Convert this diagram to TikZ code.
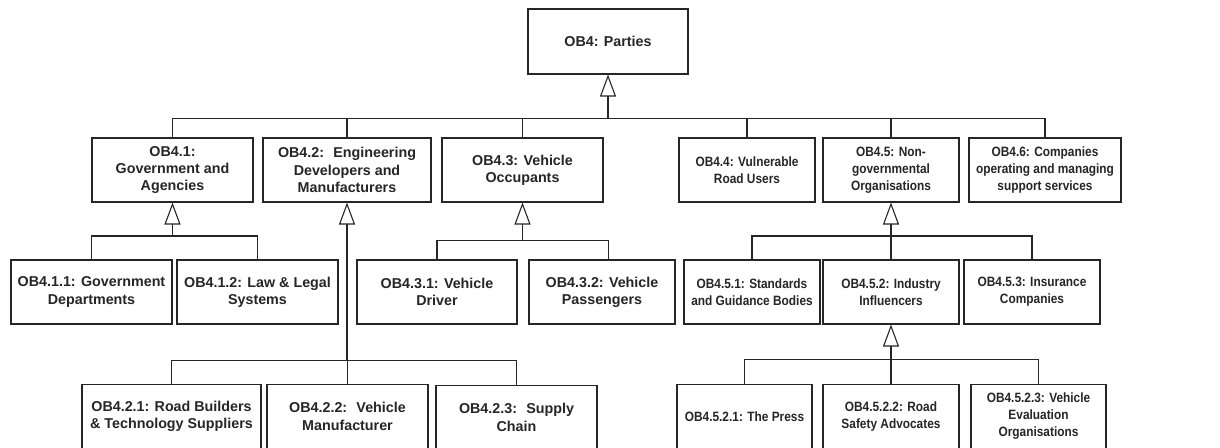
\documentclass[tikz,border=0pt]{standalone}
\usepackage{fontspec}
\setmainfont{Liberation Sans}
\newfontfamily\narrowsans[FakeStretch=0.88]{Liberation Sans}
\usetikzlibrary{arrows.meta}
\begin{document}
\begin{tikzpicture}[x=1pt,y=-1pt,
  box/.style={draw=black!85,line width=1.1pt,fill=white,inner sep=0pt,align=center,
    font=\fontsize{14.3}{17.3}\selectfont\bfseries,text=black!85},
  rbox/.style={box,font=\narrowsans\fontsize{13.5}{17}\selectfont\bfseries},
  conn/.style={draw=black!85,line width=1.1pt},
  gen/.style={conn,-{Triangle[open,length=22pt,width=16pt,line width=1.1pt]}}]
\useasboundingbox (0,0) rectangle (1220,447);
% top
\node[box,minimum width=160pt,minimum height=65pt] (ob4) at (608,41.5) {OB4: Parties};
% row 1
\node[box,minimum width=161pt,minimum height=64pt] (ob41) at (172.5,170) {OB4.1:\\Government and\\Agencies};
\node[box,minimum width=168pt,minimum height=64pt] (ob42) at (347,170) {OB4.2:~ Engineering\\Developers and\\Manufacturers};
\node[box,minimum width=161pt,minimum height=64pt] (ob43) at (522.5,170) {OB4.3: Vehicle\\Occupants};
\node[rbox,minimum width=136pt,minimum height=64pt] (ob44) at (747,170) {OB4.4: Vulnerable\\Road Users};
\node[rbox,minimum width=136pt,minimum height=64pt] (ob45) at (891,170) {OB4.5: Non-\\governmental\\Organisations};
\node[rbox,minimum width=152pt,minimum height=64pt] (ob46) at (1045,170) {OB4.6: Companies\\operating and managing\\support services};
% row 2
\node[box,minimum width=161pt,minimum height=64pt] (ob411) at (91.5,292) {OB4.1.1: Government\\Departments};
\node[box,minimum width=161pt,minimum height=64pt] (ob412) at (257.5,292) {OB4.1.2: Law \& Legal\\Systems};
\node[box,minimum width=160pt,minimum height=64pt] (ob431) at (437,292) {OB4.3.1: Vehicle\\Driver};
\node[box,minimum width=146pt,minimum height=64pt] (ob432) at (602,292) {OB4.3.2: Vehicle\\Passengers};
\node[rbox,minimum width=136pt,minimum height=64pt] (ob451) at (752,292) {OB4.5.1: Standards\\and Guidance Bodies};
\node[rbox,minimum width=136pt,minimum height=64pt] (ob452) at (891,292) {OB4.5.2: Industry\\Influencers};
\node[rbox,minimum width=136pt,minimum height=64pt] (ob453) at (1032,292) {OB4.5.3: Insurance\\Companies};
% row 3
\node[box,minimum width=179pt,minimum height=64pt] (ob421) at (171.5,416.5) {OB4.2.1: Road Builders\\\& Technology Suppliers};
\node[box,minimum width=161pt,minimum height=64pt] (ob422) at (347.5,416.5) {OB4.2.2:~ Vehicle\\Manufacturer};
\node[box,minimum width=161pt,minimum height=64pt] (ob423) at (516.5,417.5) {OB4.2.3:~ Supply\\Chain};
\node[rbox,minimum width=135pt,minimum height=64pt] (ob4521) at (744.5,416.5) {OB4.5.2.1: The Press};
\node[rbox,minimum width=136pt,minimum height=64pt] (ob4522) at (891,416.5) {OB4.5.2.2: Road\\Safety Advocates};
\node[rbox,minimum width=135pt,minimum height=64pt] (ob4523) at (1038.5,416.5) {OB4.5.2.3: Vehicle\\Evaluation\\Organisations};
% bus points
\coordinate (b4) at (608,118.5);
\coordinate (b41) at (172.5,236);
\coordinate (b43) at (522.5,240.5);
\coordinate (b45) at (891,236);
\coordinate (b42) at (347,360.5);
\coordinate (b452) at (891,359.5);
% connectors
\foreach \c in {ob41,ob42,ob43,ob44,ob45,ob46} \draw[conn] (\c.north) |- (b4);
\draw[gen] (b4) -- (ob4.south);
\foreach \c in {ob411,ob412} \draw[conn] (\c.north) |- (b41);
\draw[gen] (b41) -- (ob41.south);
\draw[conn] (ob431.north) |- (b43);
\draw[conn] ([xshift=6.5pt]ob432.north) |- (b43);
\draw[gen] (b43) -- (ob43.south);
\foreach \c in {ob451,ob452,ob453} \draw[conn] (\c.north) |- (b45);
\draw[gen] (b45) -- (ob45.south);
\foreach \c in {ob421,ob422,ob423} \draw[conn] (\c.north) |- (b42);
\draw[gen] (b42) -- (ob42.south);
\foreach \c in {ob4521,ob4522,ob4523} \draw[conn] (\c.north) |- (b452);
\draw[gen] (b452) -- (ob452.south);
\end{tikzpicture}
\end{document}
